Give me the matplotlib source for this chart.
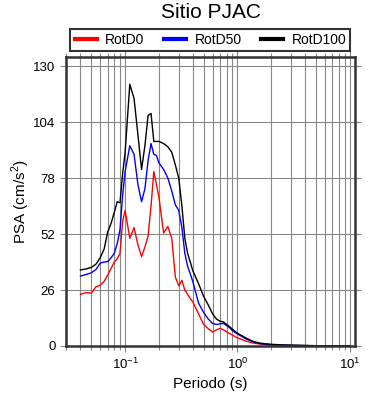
import matplotlib
matplotlib.use("Agg")
import matplotlib.pyplot as plt
from matplotlib.ticker import FixedLocator, LogLocator, NullFormatter

plt.rcParams['font.family'] = ['Liberation Sans', 'DejaVu Sans']
plt.rcParams['mathtext.fontset'] = 'custom'
plt.rcParams['mathtext.rm'] = 'Liberation Sans'

# Periodos (s)
periodos = [0.04, 0.045, 0.05, 0.055, 0.06, 0.065, 0.07, 0.075, 0.08, 0.085,
            0.09, 0.095, 0.1, 0.11, 0.12, 0.13, 0.14, 0.15, 0.16, 0.17,
            0.18, 0.19, 0.2, 0.22, 0.24, 0.26, 0.28, 0.3, 0.32, 0.34,
            0.36, 0.38, 0.4, 0.45, 0.5, 0.55, 0.6, 0.65, 0.7, 0.75,
            0.8, 0.85, 0.9, 0.95, 1.0, 1.2, 1.4, 1.6, 1.8, 2.0,
            2.5, 3.0, 4.0, 5.0, 6.0, 7.0, 8.0, 9.0, 10.0]

# PSA (cm/s2)
rotd0 = [24, 24.8, 24.6, 27.5, 28.2, 30, 33, 36, 39, 40.5,
         43, 58, 63, 50, 55, 47, 41.5, 46, 51, 65,
         81, 75, 69, 52.5, 55.5, 50, 32, 28, 30.5, 26,
         24, 22, 20.5, 15, 10, 8, 6.5, 7.5, 8.2, 7.5,
         6.6, 5.8, 5.1, 4.3, 3.8, 2.2, 1.3, 0.9, 0.6, 0.5,
         0.35, 0.25, 0.15, 0.1, 0.08, 0.06, 0.05, 0.04, 0.03]
rotd50 = [32.5, 33.2, 34, 35.5, 38.5, 39, 39.2, 41, 43, 47.5,
          54, 70, 81, 93, 89, 75, 67, 73, 86, 94,
          89, 88.5, 85, 82, 78, 72, 65.5, 63, 55, 43,
          37, 33.5, 30, 20, 15.5, 12.5, 10.5, 10, 10.3, 10.5,
          9.5, 8.5, 7.2, 6.3, 5.6, 3.2, 1.8, 1.1, 0.8, 0.6,
          0.4, 0.3, 0.2, 0.12, 0.09, 0.07, 0.05, 0.04, 0.03]
rotd100 = [35.3, 35.8, 36.5, 38, 41, 45, 53, 57, 62, 67,
           66.5, 80, 90, 121.5, 115, 98, 82, 93, 107, 108,
           95, 95, 95, 94, 92.5, 90, 84, 78, 65, 50,
           43, 39, 35, 29, 23, 19, 15, 12.5, 11.5, 11.2,
           10, 9, 7.8, 6.8, 5.9, 3.6, 2.0, 1.3, 1.0, 0.8,
           0.5, 0.4, 0.25, 0.15, 0.1, 0.08, 0.06, 0.05, 0.04]

yticks = [0, 26, 52, 78, 104, 130]

fig = plt.figure(figsize=(3.9, 4.0), dpi=100)
ax = fig.add_axes([0.169, 0.135, 0.741, 0.7225])

ax.plot(periodos, rotd0, color='red', lw=1.0, label='RotD0')
ax.plot(periodos, rotd50, color='blue', lw=1.0, label='RotD50')
ax.plot(periodos, rotd100, color='black', lw=1.0, label='RotD100')

ax.set_xscale('log')
ax.set_xlim(0.0297, 11.1)
ax.set_ylim(0, 134.2)
ax.yaxis.set_major_locator(FixedLocator(yticks))
ax.xaxis.set_major_locator(LogLocator(base=10))
ax.xaxis.set_minor_locator(LogLocator(base=10, subs=range(2, 10)))
ax.xaxis.set_minor_formatter(NullFormatter())

ax.grid(True, which='both', axis='x', color='#888888', lw=0.8)
ax.grid(True, which='major', axis='y', color='#888888', lw=0.8)
ax.set_axisbelow(True)

for s in ax.spines.values():
    s.set_linewidth(1.8)
    s.set_color('#333333')
ax.tick_params(which='both', direction='out', top=True, right=True,
               color='#888888', labelsize=9.5)
ax.tick_params(which='major', length=4, width=0.8)
ax.tick_params(which='minor', length=3, width=0.8)

ax.set_xlabel('Periodo (s)', fontsize=11)
ax.set_ylabel('PSA (cm/s$^2$)', fontsize=11, labelpad=1)
fig.text(0.54, 0.97, 'Sitio PJAC', ha='center', va='center', fontsize=15)

leg = ax.legend(loc='lower center', bbox_to_anchor=(0.5, 1.02), ncol=3,
                fontsize=10, frameon=True, fancybox=False, edgecolor='black',
                handlelength=1.6, columnspacing=1.4, borderpad=0.3,
                handletextpad=0.6, borderaxespad=0)
leg.get_frame().set_linewidth(1.5)
for h in leg.legend_handles:
    h.set_linewidth(3)

fig.savefig('out.png', dpi=100)
